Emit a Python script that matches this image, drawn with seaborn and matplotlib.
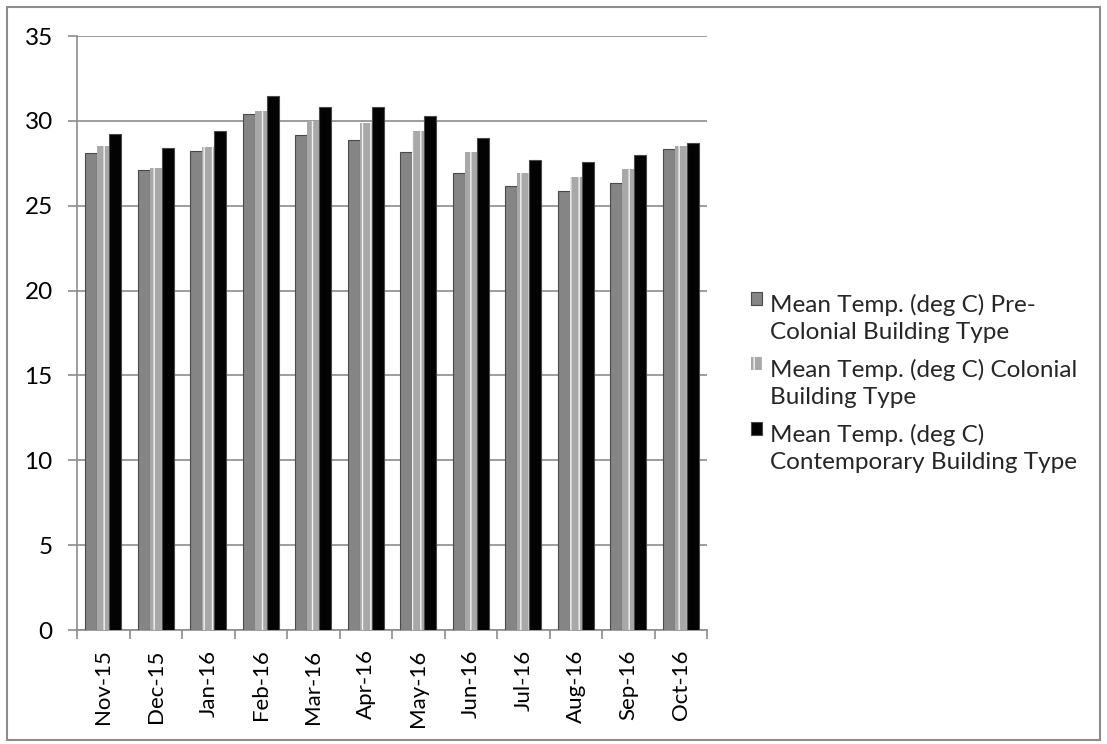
import numpy as np
import pandas as pd
import matplotlib
matplotlib.use("Agg")
import matplotlib.pyplot as plt
from matplotlib.patches import Rectangle
from matplotlib.legend_handler import HandlerPatch
import seaborn as sns

months = ["Nov-15", "Dec-15", "Jan-16", "Feb-16", "Mar-16", "Apr-16",
          "May-16", "Jun-16", "Jul-16", "Aug-16", "Sep-16", "Oct-16"]
pre_colonial = [28.1, 27.1, 28.25, 30.4, 29.15, 28.9, 28.15, 26.95, 26.15, 25.85, 26.35, 28.35]
colonial = [28.5, 27.2, 28.45, 30.6, 30.0, 29.9, 29.4, 28.15, 26.9, 26.7, 27.15, 28.5]
contemporary = [29.2, 28.4, 29.4, 31.45, 30.8, 30.8, 30.3, 29.0, 27.7, 27.6, 28.0, 28.7]

series_names = ["Pre-Colonial", "Colonial", "Contemporary"]
legend_labels = ["Mean Temp. (deg C) Pre-\nColonial Building Type",
                 "Mean Temp. (deg C) Colonial\nBuilding Type",
                 "Mean Temp. (deg C)\nContemporary Building Type"]
yticks = [0, 5, 10, 15, 20, 25, 30, 35]

df = pd.DataFrame({
    "month": months * 3,
    "series": [series_names[0]] * 12 + [series_names[1]] * 12 + [series_names[2]] * 12,
    "value": pre_colonial + colonial + contemporary,
})

sns.set_theme(style="white")
plt.rcParams["font.family"] = ["Lato", "DejaVu Sans"]
FS = 17.5

fig = plt.figure(figsize=(11.07, 7.44), dpi=100)
ax = fig.add_axes([0.0696, 0.1532, 0.5691, 0.7984])

palette = {"Pre-Colonial": "#858585", "Colonial": "#a8a8a8", "Contemporary": "#030303"}
sns.barplot(data=df, x="month", y="value", hue="series", order=months,
            hue_order=series_names, palette=palette, width=0.69,
            saturation=1, ax=ax, edgecolor="#4a4a4a", linewidth=0.8, zorder=3,
            legend=False)

# striped look for the colonial bars
for p in ax.containers[1]:
    p.set_hatch("||")
    p.set_edgecolor("#f4f4f4")
    p.set_linewidth(0)

ax.set_ylim(0, 35)
ax.set_yticks(yticks)
ax.set_xlim(-0.5, len(months) - 0.5)
ax.set_xlabel("")
ax.set_ylabel("")
ax.yaxis.grid(True, color="#8c8c8c", linewidth=1.2, zorder=0)
ax.xaxis.grid(False)
for s in ["top", "right"]:
    ax.spines[s].set_visible(False)
for s in ["left", "bottom"]:
    ax.spines[s].set_color("#8c8c8c")
    ax.spines[s].set_linewidth(1.2)

ax.tick_params(axis="y", which="major", left=True, length=6.5, width=1.2,
               color="#8c8c8c", labelsize=FS, pad=11, labelcolor="black")
ax.set_xticks(np.arange(len(months)))
ax.set_xticklabels(months, rotation=90, fontsize=16)
ax.set_xticks(np.arange(-0.5, len(months)), minor=True)
ax.tick_params(axis="x", which="major", bottom=False, pad=8, labelcolor="black")
ax.tick_params(axis="x", which="minor", bottom=True, length=6.5, width=1.2,
               color="#8c8c8c")


def top_aligned_patch(legend, orig_handle, xdescent, ydescent, width, height, fontsize):
    return Rectangle((-xdescent, -ydescent + 0.8 * fontsize), width, height)


handles = [c[0] for c in ax.containers]
leg = ax.legend(handles, legend_labels, loc="center left",
                bbox_to_anchor=(1.035, 0.415), frameon=False, fontsize=FS,
                handlelength=0.45, handleheight=0.45, handletextpad=0.35,
                labelspacing=0.62,
                handler_map={Rectangle: HandlerPatch(patch_func=top_aligned_patch)})
for t in leg.get_texts():
    t.set_linespacing(1.4)

fig.patches.append(Rectangle((0.0063, 0.0054), 0.9874, 0.9852,
                             transform=fig.transFigure, fill=False,
                             edgecolor="#8c8c8c", linewidth=1.5))

fig.savefig("out.png", dpi=100, facecolor="white")
